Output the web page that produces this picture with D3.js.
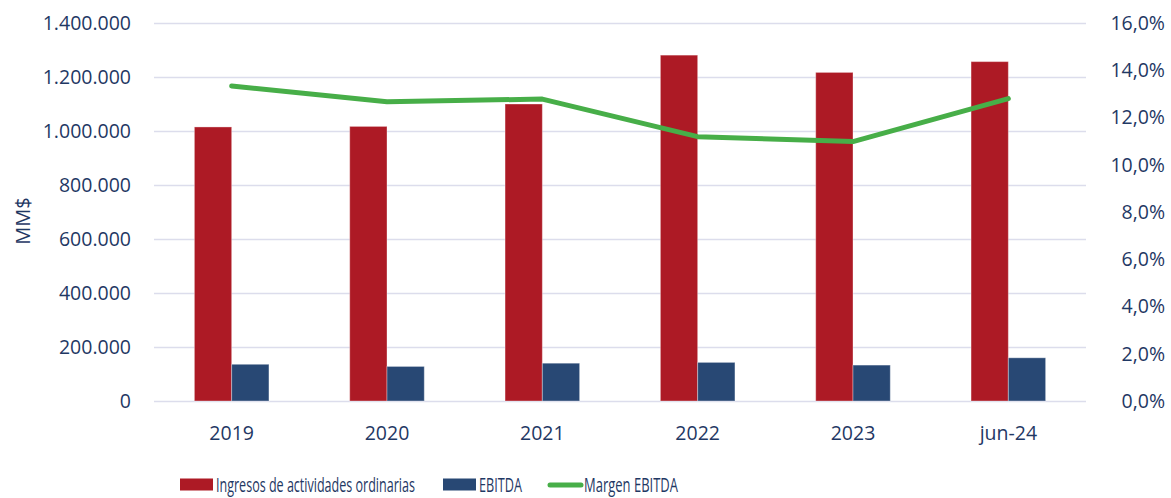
<!DOCTYPE html>
<html><head><meta charset="utf-8">
<script src="https://cdn.jsdelivr.net/npm/d3@7"></script>
<style>html,body{margin:0;padding:0;background:#fff;}svg{display:block;font-family:"Open Sans",sans-serif;}</style>
</head><body>
<svg id="chart" width="1171" height="498"></svg>
<script>
const categories = ["2019","2020","2021","2022","2023","jun-24"];
const ingresos = [1015000, 1017000, 1100000, 1281000, 1217000, 1257000];
const ebitda = [136000, 128000, 140000, 143000, 133000, 160000];
const margen = [0.1333, 0.1267, 0.1278, 0.1119, 0.1098, 0.1280];
const leftTicks = [0,200000,400000,600000,800000,1000000,1200000,1400000];
const rightTicks = [0,0.02,0.04,0.06,0.08,0.10,0.12,0.14,0.16];
const seriesNames = ["Ingresos de actividades ordinarias","EBITDA","Margen EBITDA"];

const C = {red:"#AD1A25", blue:"#284874", green:"#47AE48", text:"#1F3864", grid:"#DCDDEC"};
const svg = d3.select("#chart");
const m = {l:154, r:1086, t:23, b:401};

const x = d3.scaleBand().domain(categories).range([m.l, m.r]).paddingInner(0.52).paddingOuter(0.26);
const xc = d3.scaleBand().domain(categories).range([m.l, m.r]);
const y = d3.scaleLinear().domain([0,1400000]).range([m.b, m.t]);
const y2 = d3.scaleLinear().domain([0,0.16]).range([m.b, m.t]);
const fmtL = v => d3.format(",")(v).replace(/,/g,".");
const fmtR = v => d3.format(".1f")(v*100).replace(".",",") + "%";

// grid
const yAxisL = d3.axisLeft(y).tickValues(leftTicks).tickSize(-(m.r-m.l)).tickFormat(fmtL).tickPadding(23);
const gL = svg.append("g").attr("transform",`translate(${m.l},0)`).call(yAxisL);
gL.select(".domain").remove();
gL.selectAll(".tick line").attr("stroke",C.grid).attr("stroke-width",1.5);
gL.selectAll(".tick text").attr("fill",C.text).style("font-size","19.5px").style("font-family","'Open Sans',sans-serif");

const yAxisR = d3.axisRight(y2).tickValues(rightTicks).tickSize(0).tickFormat(fmtR).tickPadding(0);
const gR = svg.append("g").attr("transform",`translate(1165,0)`).call(yAxisR);
gR.select(".domain").remove();
gR.selectAll(".tick text").attr("fill",C.text).attr("text-anchor","end").attr("x",0).style("font-size","19.5px").style("font-family","'Open Sans',sans-serif");

const xAxis = d3.axisBottom(xc).tickSize(0).tickPadding(25);
const gX = svg.append("g").attr("transform",`translate(0,${m.b})`).call(xAxis);
gX.select(".domain").remove();
gX.selectAll(".tick text").attr("fill",C.text).style("font-size","19.5px").style("font-family","'Open Sans',sans-serif");

// bars
const bw = x.bandwidth()/2;
svg.append("g").selectAll("rect").data(categories).join("rect")
  .attr("x",d=>x(d)).attr("y",(d,i)=>y(ingresos[i])).attr("width",bw)
  .attr("height",(d,i)=>y(0)-y(ingresos[i])).attr("fill",C.red)
  .attr("stroke","rgba(255,255,255,0.35)").attr("stroke-width",1);
svg.append("g").selectAll("rect").data(categories).join("rect")
  .attr("x",d=>x(d)+bw).attr("y",(d,i)=>y(ebitda[i])).attr("width",bw)
  .attr("height",(d,i)=>y(0)-y(ebitda[i])).attr("fill",C.blue)
  .attr("stroke","rgba(255,255,255,0.35)").attr("stroke-width",1);

// line
const line = d3.line().x((d,i)=>xc(categories[i])+xc.bandwidth()/2).y(d=>y2(d));
svg.append("path").datum(margen).attr("d",line).attr("fill","none")
  .attr("stroke",C.green).attr("stroke-width",5).attr("stroke-linecap","round").attr("stroke-linejoin","round");

// axis title
svg.append("text").attr("transform","translate(30,221) rotate(-90)").attr("text-anchor","middle")
  .attr("fill",C.text).style("font-size","20px").text("MM$");

// legend
const lg = svg.append("g");
function legendText(label, x0, targetW){
  const t = lg.append("text").attr("x",0).attr("y",0).attr("fill",C.text)
    .style("font-size","20.5px").text(label);
  const w = t.node().getComputedTextLength();
  t.attr("transform",`translate(${x0},491.5) scale(${targetW/w},1)`);
}
lg.append("rect").attr("x",180).attr("y",478.5).attr("width",33).attr("height",12).attr("fill",C.red);
legendText(seriesNames[0],216,199);
lg.append("rect").attr("x",443).attr("y",478.5).attr("width",33).attr("height",12).attr("fill",C.blue);
legendText(seriesNames[1],479,43);
lg.append("line").attr("x1",550).attr("x2",581).attr("y1",485).attr("y2",485)
  .attr("stroke",C.green).attr("stroke-width",5).attr("stroke-linecap","round");
legendText(seriesNames[2],584,94);
</script>
</body></html>
